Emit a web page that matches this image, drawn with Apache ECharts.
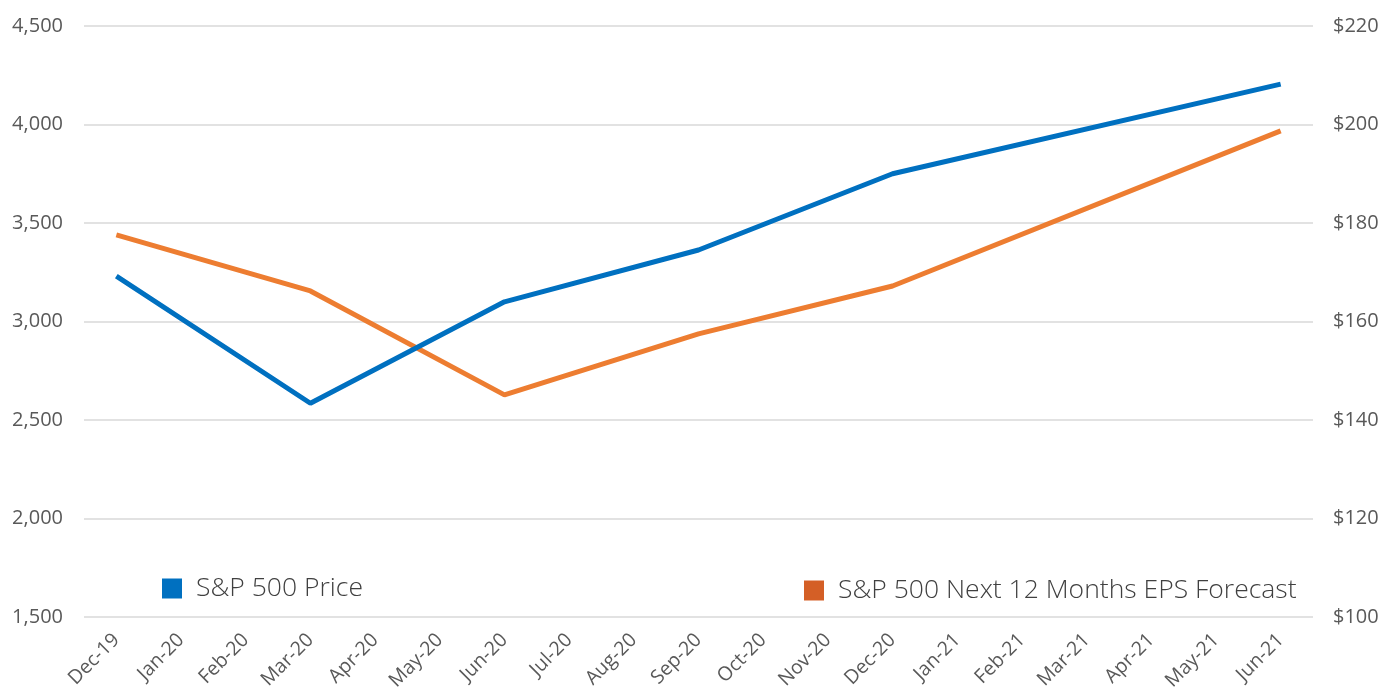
<!DOCTYPE html>
<html>
<head>
<meta charset="utf-8">
<script src="https://cdn.jsdelivr.net/npm/echarts@6/dist/echarts.min.js"></script>
<style>
html,body{margin:0;padding:0;background:#fff;}
#chart{width:1383px;height:696px;}
</style>
</head>
<body>
<div id="chart"></div>
<script>
const categories = ['Dec-19','Jan-20','Feb-20','Mar-20','Apr-20','May-20','Jun-20','Jul-20','Aug-20','Sep-20','Oct-20','Nov-20','Dec-20','Jan-21','Feb-21','Mar-21','Apr-21','May-21','Jun-21'];
const spxPrice = [3230, null, null, 2585, null, null, 3100, null, null, 3363, null, null, 3750, null, null, null, null, null, 4205];
const epsForecast = [177.6, null, null, 166.2, null, null, 145.1, null, null, 157.5, null, null, 167.2, null, null, null, null, null, 198.7];
const leftTicks = {min: 1500, max: 4500, interval: 500};
const rightTicks = {min: 100, max: 220, interval: 20};
const seriesNames = ['S&P 500 Price', 'S&P 500 Next 12 Months EPS Forecast'];

const chart = echarts.init(document.getElementById('chart'));
const font = '"Open Sans", "Noto Sans", sans-serif';
const labelColor = '#595959';
chart.setOption({
  animation: false,
  textStyle: {fontFamily: font},
  grid: {left: 84, right: 70, top: 26, bottom: 79, containLabel: false},
  legend: [
    {
      left: 162, top: 575, padding: 0, icon: 'rect', itemWidth: 20, itemHeight: 20, itemGap: 10,
      textStyle: {fontSize: 26.5, fontWeight: 300, color: '#404040', fontFamily: font, padding: [0, 0, 0, 9]},
      data: [{name: seriesNames[0], itemStyle: {color: '#0070C0'}}]
    },
    {
      left: 804, top: 577, padding: 0, icon: 'rect', itemWidth: 20, itemHeight: 20,
      textStyle: {fontSize: 26.5, fontWeight: 300, color: '#404040', fontFamily: font, padding: [0, 0, 0, 9]},
      data: [{name: seriesNames[1], itemStyle: {color: '#D45F26'}}]
    }
  ],
  xAxis: {
    type: 'category',
    data: categories,
    boundaryGap: true,
    axisLine: {show: false},
    axisTick: {show: false},
    axisLabel: {rotate: 45, fontSize: 19.5, color: labelColor, margin: 20, interval: 0, fontFamily: font}
  },
  yAxis: [
    {
      type: 'value', position: 'left',
      min: leftTicks.min, max: leftTicks.max, interval: leftTicks.interval,
      axisLine: {show: false}, axisTick: {show: false},
      axisLabel: {fontSize: 20, color: labelColor, margin: 21, fontFamily: font,
        formatter: v => v.toLocaleString('en-US')},
      splitLine: {lineStyle: {color: '#D9D9D9', width: 1.5}}
    },
    {
      type: 'value', position: 'right',
      min: rightTicks.min, max: rightTicks.max, interval: rightTicks.interval,
      axisLine: {show: false}, axisTick: {show: false},
      axisLabel: {fontSize: 20, color: labelColor, margin: 20, fontFamily: font,
        formatter: v => '$' + v},
      splitLine: {show: false}
    }
  ],
  series: [
    {
      name: seriesNames[0], type: 'line', yAxisIndex: 0, data: spxPrice,
      connectNulls: true, showSymbol: false, symbol: 'none',
      lineStyle: {color: '#0070C0', width: 5},
      itemStyle: {color: '#0070C0'}, z: 3
    },
    {
      name: seriesNames[1], type: 'line', yAxisIndex: 1, data: epsForecast,
      connectNulls: true, showSymbol: false, symbol: 'none',
      lineStyle: {color: '#ED7D31', width: 5},
      itemStyle: {color: '#ED7D31'}, z: 2
    }
  ]
});
</script>
</body>
</html>
